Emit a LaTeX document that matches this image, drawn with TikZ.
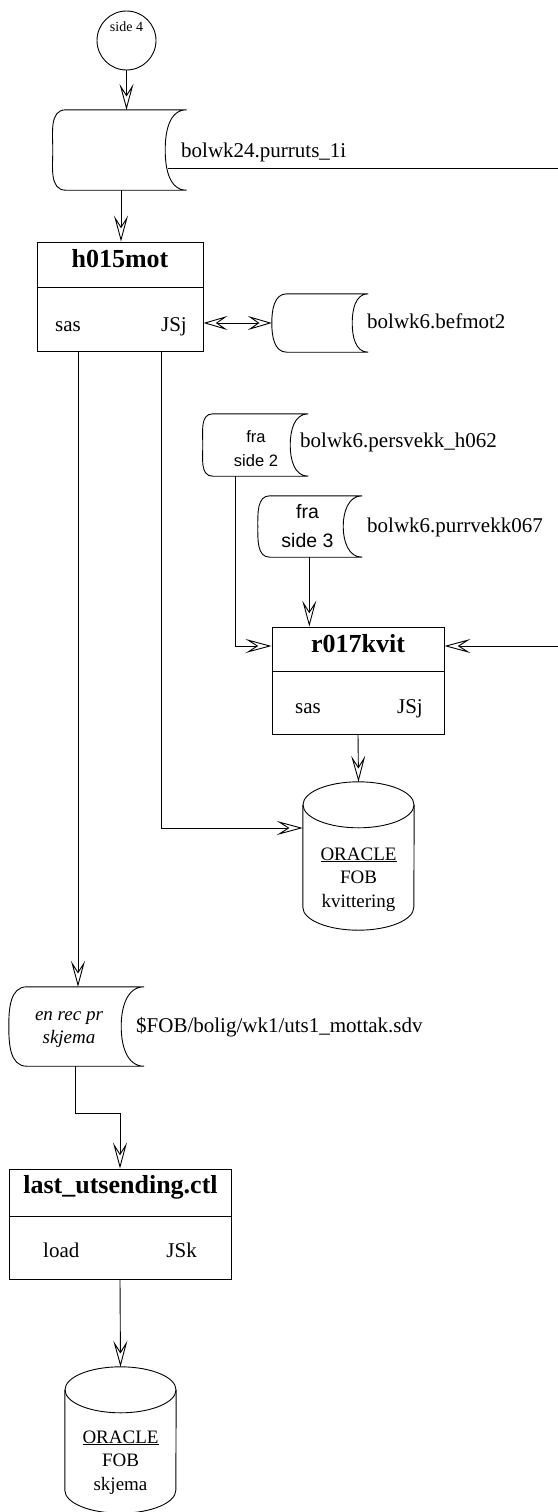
\documentclass[tikz,border=0pt]{standalone}
\usepackage{fontspec}
\setmainfont{Liberation Serif}
\newfontfamily\sansf{Liberation Sans}
\usetikzlibrary{arrows.meta,calc}

\newcommand{\tapeshape}[3]{%
  \draw[flow] ($(#1.north west)+(#2,0)$) -- (#1.north east)
    to[out=180,in=90] ($(#1.east)+(-#3,0)$) to[out=-90,in=180] (#1.south east)
    -- ($(#1.south west)+(#2,0)$) to[out=180,in=-90] (#1.west)
    to[out=90,in=180] cycle;}
\newcommand{\cylshape}[3]{%
  \draw[flow] ($(#1.north west)+(0,-#3)$) -- ($(#1.south west)+(0,#3)$)
    arc[start angle=180,end angle=360,x radius=#2,y radius=#3]
    -- ($(#1.north east)+(0,-#3)$);
  \draw[flow] ($(#1.north)+(0,-#3)$) ellipse[x radius=#2,y radius=#3];}

\tikzset{
  flow/.style={draw=black, line width=0.9pt},
  arr/.style={flow, -{Stealth[open,length=26pt,width=14pt,inset=11pt]}},
  darr/.style={flow, {Stealth[open,length=24pt,width=14pt,inset=10pt]}-{Stealth[open,length=24pt,width=14pt,inset=10pt]}},
  shapebox/.style={draw=none, inner sep=0pt},
  procbox/.style={flow, rectangle, inner sep=0pt},
  lbl/.style={inner sep=0pt, font=\fontsize{21}{25}\selectfont},
  ttl/.style={inner sep=0pt, font=\fontsize{26}{30}\selectfont\bfseries},
  dbtxt/.style={inner sep=0pt, align=center, font=\fontsize{19}{23.5}\selectfont},
}

\begin{document}
\begin{tikzpicture}[x=1pt,y=1pt]
\useasboundingbox (0,0) rectangle (557,-1512);

% side 4 connector
\node[flow, circle, minimum size=59pt, inner sep=0pt] (s4) at (126.5,-40.5) {};
\node[inner sep=0pt, font=\fontsize{14}{16}\selectfont, anchor=base] (s4t) at (126.5,-31.5) {side 4};

% tape 1
\node[shapebox, minimum width=133.5pt, minimum height=80pt] (t1) at (119.75,-150) {};
\tapeshape{t1}{13}{21.5}
\node[lbl, anchor=base west] (t1l) at (181,-157) {bolwk24.purruts\_1i};

% h015mot
\node[procbox, minimum width=166pt, minimum height=109pt] (h015) at (120,-296.5) {};
\draw[flow] ($(h015.north west)+(0,-46)$) -- ($(h015.north east)+(0,-46)$);
\node[ttl, anchor=base] (h015t) at (120,-267) {h015mot};
\node[lbl, anchor=base west] (h015a) at (55,-331) {sas};
\node[lbl, anchor=base east] (h015b) at (187,-331) {JSj};

% tape befmot2
\node[shapebox, minimum width=96pt, minimum height=58pt] (t2) at (320,-323) {};
\tapeshape{t2}{15}{16}
\node[lbl, anchor=base west] (t2l) at (367,-328) {bolwk6.befmot2};

% fra side 2
\node[shapebox, minimum width=105pt, minimum height=62pt] (ts2) at (255.5,-445) {};
\tapeshape{ts2}{10}{18}
\node[inner sep=0pt, align=center, font=\sansf\fontsize{16.5}{24}\selectfont, anchor=base] (ts2t) at (256,-466) {fra\\side 2};
\node[lbl, anchor=base west] (ts2l) at (300,-447) {bolwk6.persvekk\_h062};

% fra side 3
\node[shapebox, minimum width=104pt, minimum height=61pt] (ts3) at (310,-526.5) {};
\tapeshape{ts3}{12}{19}
\node[inner sep=0pt, align=center, font=\sansf\fontsize{19.5}{29}\selectfont, anchor=base] (ts3t) at (307.5,-547) {fra\\side 3};
\node[lbl, anchor=base west] (ts3l) at (367,-532) {bolwk6.purrvekk067};

% r017kvit
\node[procbox, minimum width=172pt, minimum height=107pt] (r017) at (358,-680.5) {};
\draw[flow] ($(r017.north west)+(0,-45)$) -- ($(r017.north east)+(0,-45)$);
\node[ttl, anchor=base] (r017t) at (358,-652) {r017kvit};
\node[lbl, anchor=base west] (r017a) at (295,-713) {sas};
\node[lbl, anchor=base east] (r017b) at (423,-713) {JSj};

% database kvittering
\node[shapebox, minimum width=111pt, minimum height=148pt] (db1) at (358.5,-856) {};
\cylshape{db1}{55.5}{23}
\node[dbtxt, anchor=base] (db1t) at (358.5,-907) {\underline{ORACLE}\\FOB\\kvittering};

% tape en rec pr skjema
\node[shapebox, minimum width=135pt, minimum height=79pt] (t3) at (76.5,-1026.5) {};
\tapeshape{t3}{18}{23}
\node[inner sep=0pt, align=center, font=\fontsize{19}{23}\selectfont\itshape, anchor=base] (t3t) at (69,-1043) {en rec pr\\skjema};
\node[lbl, anchor=base west] (t3l) at (136,-1032) {\$FOB/bolig/wk1/uts1\_mottak.sdv};

% last_utsending.ctl
\node[procbox, minimum width=222pt, minimum height=110pt] (lu) at (120,-1224) {};
\draw[flow] ($(lu.north west)+(0,-48)$) -- ($(lu.north east)+(0,-48)$);
\node[ttl, anchor=base] (lut) at (120.5,-1193) {last\_utsending.ctl};
\node[lbl, anchor=base west] (lua) at (43,-1257) {load};
\node[lbl, anchor=base east] (lub) at (197,-1257) {JSk};

% database skjema
\node[shapebox, minimum width=111pt, minimum height=146pt] (db2) at (120.5,-1440) {};
\cylshape{db2}{55.5}{23}
\node[dbtxt, anchor=base] (db2t) at (120.5,-1490) {\underline{ORACLE}\\FOB\\skjema};

% connectors
\draw[arr] (s4.south) -- (s4.south |- t1.north);
\coordinate (t1b) at (121,-190);
\draw[arr] (t1b) -- (t1b |- h015.north);
\coordinate (t1o) at ($(t1.east)+(-19,-18)$);
\coordinate (e1) at (564,-168);
\coordinate (e2) at (564,-646);
\draw[arr] (t1o) -- (e1) -- (e2) -- (r017.east |- e2);
\draw[darr] (h015.east |- t2.west) -- (t2.west);
\coordinate (h1) at (78,-351);
\draw[arr] (h1) -- (h1 |- t3.north);
\coordinate (h2) at (161.7,-351);
\coordinate (h2b) at (161.7,-828);
\draw[arr] (h2) -- (h2b) -- (db1.west |- h2b);
\coordinate (s2b) at (235,-476);
\coordinate (s2c) at (235,-646);
\draw[arr] (s2b) -- (s2c) -- (r017.west |- s2c);
\coordinate (s3b) at (309.3,-557);
\draw[arr] (s3b) -- (s3b |- r017.north);
\draw[arr] (r017.south) -- (db1.north);
\coordinate (t3b) at (75.7,-1066);
\coordinate (t3c) at (75.7,-1113);
\coordinate (t3d) at (120,-1113);
\draw[arr] (t3b) -- (t3c) -- (t3d) -- (lu.north);
\draw[arr] (lu.south) -- (db2.north);
\end{tikzpicture}
\end{document}
